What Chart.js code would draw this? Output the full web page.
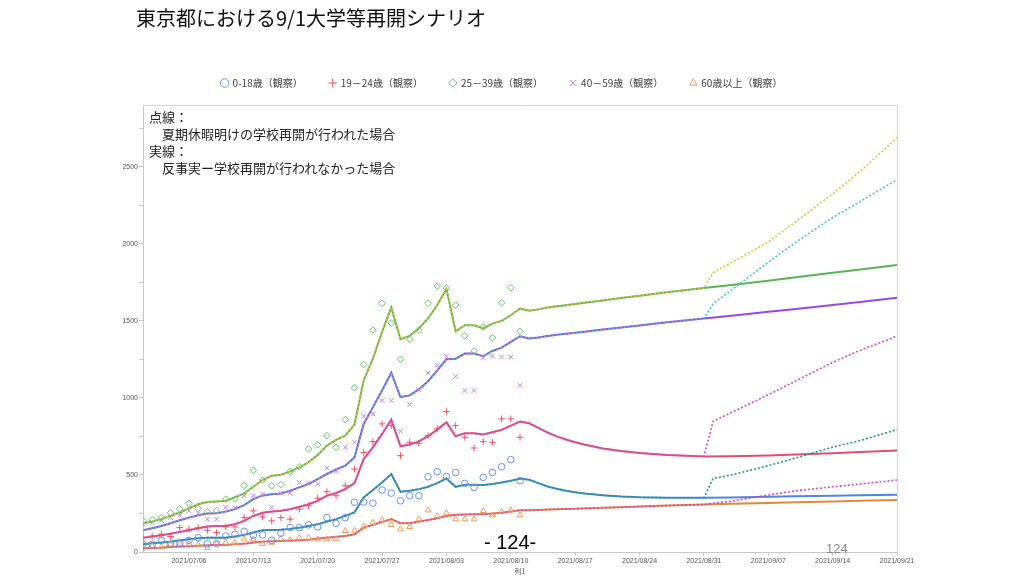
<!DOCTYPE html>
<html><head><meta charset="utf-8">
<script src="https://cdn.jsdelivr.net/npm/chart.js@4.4.0/dist/chart.umd.min.js"></script>
<style>
html,body{margin:0;padding:0;background:#fff;}
#wrap{position:relative;width:1024px;height:576px;overflow:hidden;font-family:"Noto Sans CJK JP",sans-serif;}
#c{position:absolute;left:0;top:0;}
.t{position:absolute;white-space:nowrap;}
</style></head><body>
<div id="wrap">
<canvas id="c" width="1024" height="576"></canvas>
<div class="t" style="left:136px;top:3px;font-size:20px;color:#111;">東京都における9/1大学等再開シナリオ</div>
<div class="t" style="left:149px;top:108px;font-size:13px;line-height:17px;color:#222;">点線：<br>　夏期休暇明けの学校再開が行われた場合<br>実線：<br>　反事実ー学校再開が行われなかった場合</div>
<div class="t" style="left:484px;top:531px;font-size:20px;color:#000;font-family:'Liberation Sans',sans-serif;">- 124-</div>
<div class="t" style="left:826px;top:541px;font-size:13px;color:#8a8a8a;font-family:'Liberation Sans',sans-serif;">124</div>
</div>
<script>
// ---- x axis (day 0 = 2021/07/01) ----
const tickDays = [5,12,19,26,33,40,47,54,61,68,75,82];
const tickLabels = ['2021/07/06','2021/07/13','2021/07/20','2021/07/27','2021/08/03','2021/08/10','2021/08/17','2021/08/24','2021/08/31','2021/09/07','2021/09/14','2021/09/21'];

// ---- observed (days 0..41) ----
const obs0_18  = [50,50,76,50,54,76,93,54,54,104,115,134,109,111,76,122,158,158,176,163,223,186,223,323,324,317,402,382,332,365,365,488,521,490,516,445,419,484,516,553,599,462];
const obs19_24 = [93,104,115,100,158,148,158,141,126,163,163,223,267,228,202,223,213,278,300,349,391,365,430,538,646,716,831,820,625,712,705,755,799,911,820,744,675,716,712,864,864,744];
const obs25_39 = [204,210,223,254,280,316,283,261,269,343,343,432,530,467,430,438,522,553,669,695,755,679,859,1066,1217,1439,1613,1486,1250,1380,1439,1613,1725,1712,1602,1402,1304,1460,1389,1617,1714,1432];
const obs40_59 = [180,191,205,223,239,267,250,213,213,289,284,365,365,375,289,382,382,451,447,441,545,523,679,712,881,896,983,983,783,957,1053,1161,1211,1270,1139,1048,1048,1261,1272,1265,1265,1081];
const obs60    = [24,39,33,50,54,54,50,28,54,61,61,83,83,54,61,87,78,93,93,83,83,83,137,140,165,191,208,176,148,163,213,271,234,252,213,213,213,267,239,262,271,239];

// ---- fitted counterfactual (solid): days 0..44 daily, then fitTailDays ----
const fitTailDays = [45,46,47,48,50,52,54,57,61,64,68,71,75,78,82];
const fit0_18  = [50,57,61,67,76,83,89,93,93,93,100,111,126,141,143,145,150,158,169,180,197,213,234,256,354,402,451,506,391,397,408,423,447,477,423,436,436,434,441,451,462,477,469,447,425,
                  410,398,388,380,368,360,355,352,352,354,358,361,365,368,371];
const fit19_24 = [93,100,109,119,130,141,154,165,169,169,180,202,234,254,262,267,278,293,310,332,365,383,408,447,603,679,766,859,686,697,718,751,794,842,751,770,770,762,777,792,820,846,835,805,775,
                  750,730,712,697,672,655,642,630,620,621,626,632,640,648,658];
const fit25_39 = [187,197,213,234,256,284,310,325,328,332,354,380,423,467,495,501,521,549,582,630,690,728,755,827,1113,1254,1428,1586,1380,1402,1450,1515,1602,1706,1432,1471,1471,1450,1482,1499,1536,1580,1565,1574,1586,
                  1594,1601,1609,1617,1632,1648,1663,1685,1712,1732,1760,1782,1811,1833,1862];
const fit40_59 = [141,154,169,187,206,223,239,249,252,262,278,304,343,367,375,380,397,419,441,473,506,535,560,614,831,940,1048,1163,1005,1016,1055,1107,1178,1250,1254,1287,1287,1270,1304,1326,1363,1400,1385,1391,1402,
                  1409,1416,1422,1429,1443,1456,1470,1490,1515,1533,1558,1577,1602,1622,1649];
const fit60    = [24,26,28,33,35,37,41,44,46,46,50,54,61,67,70,72,74,76,80,87,93,99,104,115,158,176,195,213,187,187,197,208,219,234,241,243,245,245,249,254,262,271,271,273,275,
                  277,279,281,283,287,291,295,301,308,313,318,322,328,332,337];

// ---- school-reopening scenario (dotted): same as fit up to day 61, then ----
const scenDays = [62,64,68,71,75,78,82];
const scen0_18  = [477,500,560,610,680,723,794];
const scen19_24 = [848,905,1020,1110,1230,1309,1400];
const scen25_39 = [1812,1878,2011,2143,2324,2469,2687];
const scen40_59 = [1610,1700,1880,2010,2170,2274,2415];
const scen60    = [316,330,370,397,423,441,467];

const obsLabels = ['0-18歳（観察）','19－24歳（観察）','25－39歳（観察）','40－59歳（観察）','60歳以上（観察）'];

// ---- build point lists ----
const obsDays = obs0_18.map((_, i) => i);
const fitDays = fit0_18.slice(0, 45).map((_, i) => i).concat(fitTailDays);
const pts = (days, vals) => vals.map((v, i) => ({x: days[i], y: v}));
const scenPts = (fit, scen) => pts(fitDays, fit).filter(p => p.x <= 61).concat(pts(scenDays, scen));

const obsSets = [
  {v: obs0_18,  style: 'circle',   col: '#6a8ff0'},
  {v: obs19_24, style: 'cross',    col: '#ee5060'},
  {v: obs25_39, style: 'rectRot',  col: '#66c266'},
  {v: obs40_59, style: 'crossRot', col: '#c47af0'},
  {v: obs60,    style: 'triangle', col: '#f09a58'}
];
const fitSets = [
  {v: fit0_18,  s: scen0_18,  col: '#4f86dc', dcol: '#1a9c7c'},
  {v: fit19_24, s: scen19_24, col: '#e0506e', dcol: '#cf48d6'},
  {v: fit25_39, s: scen25_39, col: '#58b550', dcol: '#d6c638'},
  {v: fit40_59, s: scen40_59, col: '#9a48e0', dcol: '#3ec6d0'},
  {v: fit60,    s: scen60,    col: '#e08a3c', dcol: '#e040c0'}
];

const datasets = [];
obsSets.forEach((o, i) => datasets.push({
  label: obsLabels[i], data: pts(obsDays, o.v), showLine: false,
  pointStyle: o.style, pointRadius: 3.3, pointBorderWidth: 1, borderWidth: 1,
  borderColor: o.col, backgroundColor: 'rgba(0,0,0,0)', pointBackgroundColor: 'rgba(0,0,0,0)', isObs: true
}));
fitSets.forEach(f => datasets.push({
  label: 'scenario', data: scenPts(f.v, f.s), borderColor: f.dcol, borderWidth: 1.6,
  borderDash: [2, 2], pointRadius: 0, tension: 0, fill: false
}));
fitSets.forEach(f => datasets.push({
  label: 'fit', data: pts(fitDays, f.v), borderColor: f.col, borderWidth: 2,
  pointRadius: 0, tension: 0, fill: false
}));

const frame = {
  id: 'frame',
  beforeDatasetsDraw(chart) {
    const {ctx, chartArea: a} = chart;
    ctx.save(); ctx.strokeStyle = '#d6d6d6'; ctx.lineWidth = 1;
    ctx.beginPath();
    ctx.moveTo(a.left, a.top + 0.5); ctx.lineTo(a.right + 0.5, a.top + 0.5); ctx.lineTo(a.right + 0.5, a.bottom);
    ctx.stroke(); ctx.restore();
  }
};
const legendShift = {
  id: 'legendShift',
  afterLayout(chart) {
    const l = chart.legend; if (!l) return;
    const h = l.bottom - l.top;
    l.left = 152; l.right = 852; l.top -= 7; l.bottom = l.top + h;
  }
};

Chart.defaults.font.family = "'Noto Sans CJK JP', sans-serif";
new Chart(document.getElementById('c'), {
  type: 'line',
  data: {datasets},
  plugins: [frame, legendShift],
  options: {
    responsive: false, animation: false, devicePixelRatio: 1,
    layout: {padding: {left: 0, right: 127, top: 58, bottom: 0}},
    plugins: {
      legend: {
        position: 'top',
        labels: {
          usePointStyle: true, boxWidth: 6, boxHeight: 6, padding: 27, color: '#404040',
          font: {size: 10}, filter: (item, data) => data.datasets[item.datasetIndex].isObs
        }
      },
      tooltip: {enabled: false}
    },
    scales: {
      x: {
        type: 'linear', min: 0, max: 82,
        afterBuildTicks: s => { s.ticks = tickDays.map(v => ({value: v})); },
        afterFit: s => { s.height = 24; },
        ticks: {
          autoSkip: false, maxRotation: 0, padding: 1, color: '#555',
          font: {family: "'Liberation Sans', sans-serif", size: 7},
          callback: (v, i) => tickLabels[i]
        },
        grid: {drawOnChartArea: false, drawTicks: true, tickLength: 4, color: '#c8c8c8'},
        border: {display: true, color: '#c8c8c8'},
        title: {display: true, text: '列1', color: '#555', font: {size: 7}, padding: {top: 1, bottom: 0}}
      },
      y: {
        min: 0, max: 2900,
        afterFit: s => { s.width = 143; },
        ticks: {
          stepSize: 250, includeBounds: false, padding: 1, color: '#555',
          font: {family: "'Liberation Sans', sans-serif", size: 7},
          callback: v => (v % 500 === 0 ? String(v) : '')
        },
        grid: {drawOnChartArea: false, drawTicks: true, tickLength: 4, color: '#c8c8c8'},
        border: {display: true, color: '#c8c8c8'}
      }
    }
  }
});
</script>
</body></html>
